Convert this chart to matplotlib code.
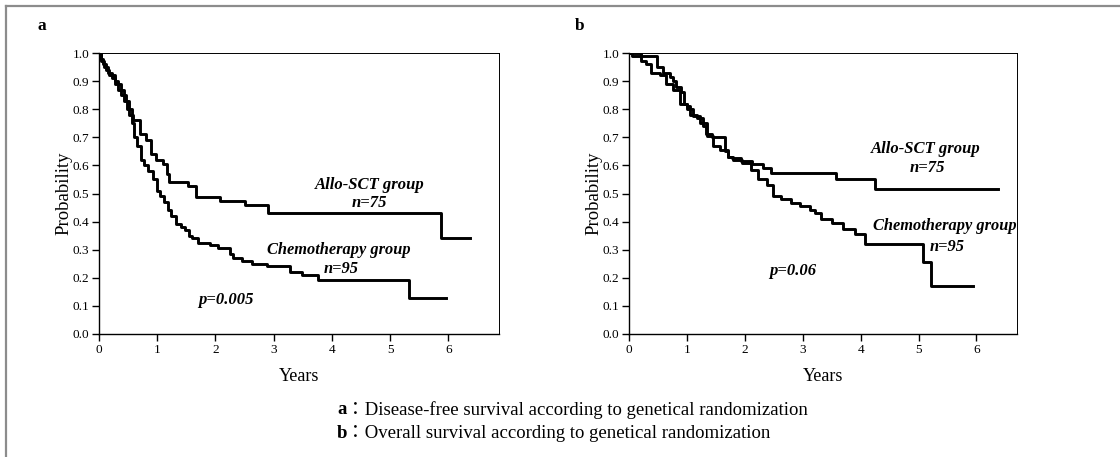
import matplotlib
matplotlib.use("Agg")
import matplotlib.pyplot as plt
from matplotlib.lines import Line2D

# Panel a: disease-free survival (years, probability)
a_allo_t = [0, 0.03, 0.07, 0.12, 0.16, 0.22, 0.27, 0.33, 0.38, 0.43, 0.47, 0.52, 0.56, 0.58,
            0.70, 0.81, 0.90, 0.98, 1.10, 1.16, 1.21, 1.53, 1.67, 2.07, 2.50, 2.90, 5.88, 6.37]
a_allo_s = [1.0, 0.98, 0.96, 0.95, 0.93, 0.92, 0.90, 0.89, 0.87, 0.85, 0.83, 0.80, 0.78, 0.76,
            0.713, 0.69, 0.64, 0.62, 0.606, 0.57, 0.54, 0.525, 0.487, 0.475, 0.458, 0.432, 0.34, 0.34]

a_chemo_t = [0, 0.03, 0.08, 0.12, 0.17, 0.22, 0.27, 0.33, 0.38, 0.43, 0.48, 0.52, 0.56, 0.60,
             0.66, 0.72, 0.77, 0.85, 0.92, 0.99, 1.04, 1.12, 1.19, 1.24, 1.33, 1.40, 1.47, 1.54,
             1.59, 1.70, 1.90, 2.05, 2.25, 2.30, 2.45, 2.62, 2.88, 3.28, 3.48, 3.76, 5.33, 5.96]
a_chemo_s = [1.0, 0.97, 0.95, 0.94, 0.92, 0.91, 0.89, 0.87, 0.85, 0.83, 0.80, 0.78, 0.75, 0.70,
             0.67, 0.62, 0.60, 0.58, 0.55, 0.51, 0.49, 0.47, 0.44, 0.42, 0.39, 0.38, 0.37, 0.35,
             0.34, 0.325, 0.316, 0.305, 0.285, 0.272, 0.26, 0.25, 0.241, 0.222, 0.211, 0.193, 0.127, 0.127]

# Panel b: overall survival
b_allo_t = [0, 0.05, 0.48, 0.58, 0.71, 0.76, 0.82, 0.90, 0.95, 1.01, 1.06, 1.18, 1.27, 1.33,
            1.44, 1.66, 1.71, 1.77, 1.94, 2.12, 2.32, 2.45, 3.57, 4.24, 6.37]
b_allo_s = [1.0, 0.99, 0.95, 0.93, 0.915, 0.90, 0.88, 0.86, 0.82, 0.81, 0.78, 0.77, 0.74, 0.71,
            0.70, 0.65, 0.63, 0.625, 0.615, 0.605, 0.59, 0.572, 0.55, 0.515, 0.515]

b_chemo_t = [0, 0.2, 0.3, 0.38, 0.53, 0.64, 0.76, 0.88, 1.0, 1.11, 1.23, 1.34, 1.45, 1.57, 1.71,
             1.80, 1.95, 2.10, 2.23, 2.38, 2.49, 2.63, 2.80, 2.95, 3.12, 3.21, 3.32, 3.50, 3.70,
             3.90, 4.07, 5.08, 5.22, 5.94]
b_chemo_s = [1.0, 0.97, 0.96, 0.93, 0.92, 0.89, 0.87, 0.82, 0.80, 0.775, 0.75, 0.705, 0.67, 0.655,
             0.63, 0.62, 0.61, 0.585, 0.55, 0.53, 0.49, 0.48, 0.467, 0.455, 0.44, 0.43, 0.41, 0.395,
             0.375, 0.355, 0.32, 0.255, 0.17, 0.17]

y_ticks = [0.0, 0.1, 0.2, 0.3, 0.4, 0.5, 0.6, 0.7, 0.8, 0.9, 1.0]
x_ticks = [0, 1, 2, 3, 4, 5, 6]

serif = "Liberation Serif"
W, H = 1120, 457

fig = plt.figure(figsize=(W / 100, H / 100), dpi=100)
fig.patch.set_facecolor("white")

# grey frame, only left and top edges visible
fig.add_artist(Line2D([6 / W, 6 / W], [0, 1 - 6 / H], transform=fig.transFigure, color="#8c8c8c", lw=1.6))
fig.add_artist(Line2D([6 / W, 1], [1 - 6 / H, 1 - 6 / H], transform=fig.transFigure, color="#8c8c8c", lw=1.6))


def make_panel(left, right, xmax, letter, letter_x, allo_t, allo_s, chemo_t, chemo_s, texts):
    ax = fig.add_axes([left / W, (H - 334) / H, (right - left) / W, (334 - 53) / H])
    ax.step(allo_t, allo_s, where="post", color="black", lw=2.1)
    ax.step(chemo_t, chemo_s, where="post", color="black", lw=2.1)
    ax.set_xlim(0, xmax)
    ax.set_ylim(0, 1.0)
    ax.set_yticks(y_ticks)
    ax.set_yticklabels(["%.1f" % v for v in y_ticks], fontfamily=serif, fontsize=9.5)
    ax.set_xticks(x_ticks)
    ax.set_xticklabels([str(v) for v in x_ticks], fontfamily=serif, fontsize=9.5)
    ax.tick_params(direction="out", length=5, width=1.0, pad=2)
    for sp in ax.spines.values():
        sp.set_linewidth(1.0)
    ax.spines["top"].set_linewidth(0.7)
    ax.spines["right"].set_linewidth(0.7)
    ax.set_ylabel("Probability", fontfamily=serif, fontsize=13.5, labelpad=0)
    ax.set_xlabel("Years", fontfamily=serif, fontsize=13, labelpad=9)
    fig.text(letter_x / W, 1 - 26 / H, letter, fontfamily=serif, fontsize=12.5,
             fontweight="bold", ha="left", va="center")
    for tx, ty, s, fs in texts:
        ax.text(tx, ty, s, fontfamily=serif, fontsize=fs, fontweight="bold",
                fontstyle="italic", ha="center", va="center")
    return ax


make_panel(99, 499, 6.87, "a", 38, a_allo_t, a_allo_s, a_chemo_t, a_chemo_s,
           [(4.65, 0.53, "Allo-SCT group", 12), (4.65, 0.465, "n=75", 12),
            (4.12, 0.30, "Chemotherapy group", 11.8), (4.16, 0.23, "n=95", 11.8),
            (2.18, 0.12, "p=0.005", 12)])
make_panel(629, 1017, 6.70, "b", 575, b_allo_t, b_allo_s, b_chemo_t, b_chemo_s,
           [(5.12, 0.66, "Allo-SCT group", 12), (5.15, 0.59, "n=75", 12),
            (5.45, 0.385, "Chemotherapy group", 11.8), (5.5, 0.31, "n=95", 11.8),
            (2.82, 0.225, "p=0.06", 12)])

# caption
cap_fam = [serif, "Noto Sans CJK JP"]
captions = [("a", "：Disease-free survival according to genetical randomization", 410),
            ("b", "：Overall survival according to genetical randomization", 433)]
for key, rest, ypx in captions:
    fig.text(337 / W, 1 - ypx / H, key, fontfamily=cap_fam, fontsize=13.5,
             fontweight="bold", ha="left", va="center")
    fig.text(346 / W, 1 - ypx / H, rest, fontfamily=cap_fam, fontsize=13.5,
             ha="left", va="center")

fig.savefig("out.png", dpi=100, facecolor="white")
